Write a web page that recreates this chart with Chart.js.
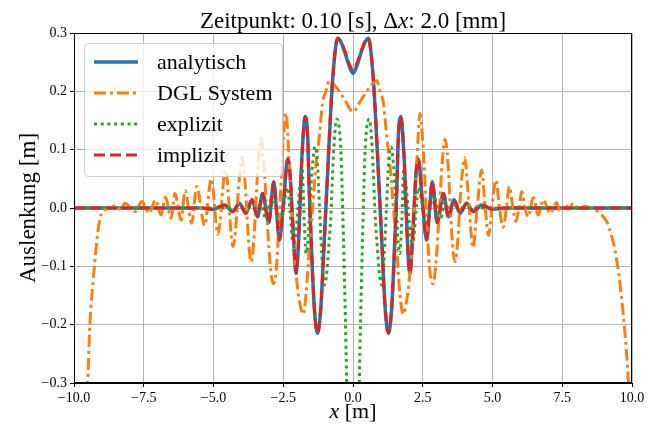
<!DOCTYPE html>
<html>
<head>
<meta charset="utf-8">
<script src="https://cdn.jsdelivr.net/npm/chart.js@4.4.1/dist/chart.umd.min.js"></script>
<style>
  html, body { margin: 0; padding: 0; background: #fff; }
  canvas { display: block; }
</style>
</head>
<body>
<canvas id="chart" width="658" height="426"></canvas>
<script>
const xTicks = [-10, -7.5, -5, -2.5, 0, 2.5, 5, 7.5, 10];
const yTicks = [-0.3, -0.2, -0.1, 0, 0.1, 0.2, 0.3];
const seriesNames = ["analytisch", "DGL System", "explizit", "implizit"];

// [x, y] pairs
const analytisch = [
  [-10, 0], [-5.5, 0], [-5.0, -0.002], [-4.61, 0.005], [-4.31, -0.006], [-4.07, 0.008],
  [-3.84, -0.009], [-3.62, 0.014], [-3.42, -0.015], [-3.24, 0.025], [-3.02, -0.025],
  [-2.84, 0.045], [-2.74, -0.005], [-2.64, -0.055], [-2.49, 0.01], [-2.34, 0.084],
  [-2.26, 0.06], [-2.16, -0.026], [-2.04, -0.112], [-1.98, -0.083], [-1.9, 0.002],
  [-1.83, 0.088], [-1.71, 0.157], [-1.62, 0.117], [-1.57, 0.031], [-1.5, -0.055],
  [-1.39, -0.169], [-1.27, -0.215], [-1.15, -0.169], [-1.03, -0.055], [-0.91, 0.06],
  [-0.79, 0.174], [-0.67, 0.255], [-0.55, 0.291], [-0.45, 0.286], [-0.3, 0.268],
  [-0.15, 0.245], [0, 0.231], [0.15, 0.245], [0.3, 0.268], [0.45, 0.286], [0.55, 0.291],
  [0.67, 0.255], [0.79, 0.174], [0.91, 0.06], [1.03, -0.055], [1.15, -0.169],
  [1.27, -0.215], [1.39, -0.169], [1.5, -0.055], [1.57, 0.031], [1.62, 0.117],
  [1.71, 0.157], [1.83, 0.088], [1.9, 0.002], [1.98, -0.083], [2.04, -0.112],
  [2.16, -0.026], [2.26, 0.06], [2.34, 0.084], [2.49, 0.01], [2.64, -0.055],
  [2.74, -0.005], [2.84, 0.045], [3.02, -0.025], [3.24, 0.025], [3.42, -0.015],
  [3.62, 0.014], [3.84, -0.009], [4.07, 0.008], [4.31, -0.006], [4.61, 0.005],
  [5.0, -0.002], [5.5, 0], [10, 0]
];

const dglSystem = [
  [-10, -0.75], [-9.51, -0.3], [-9.43, -0.198], [-9.31, -0.123], [-9.19, -0.06],
  [-9.07, -0.018], [-8.89, -0.003], [-8.71, 0.0], [-8.5, 0.004], [-8.33, -0.003],
  [-8.17, 0.008], [-7.8, -0.006], [-7.57, 0.011], [-7.3, -0.009], [-7.08, 0.014],
  [-6.88, -0.012], [-6.72, 0.019], [-6.52, -0.018], [-6.38, 0.025], [-6.16, -0.021],
  [-6.02, 0.03], [-5.78, -0.026], [-5.6, 0.037], [-5.32, -0.03], [-5.08, 0.05],
  [-4.84, -0.045], [-4.57, 0.065], [-4.3, -0.066], [-3.97, 0.087], [-3.65, -0.092],
  [-3.3, 0.119], [-3.2, 0.08], [-3.1, 0.0], [-2.98, -0.09], [-2.86, -0.13],
  [-2.76, -0.11], [-2.64, -0.02], [-2.52, 0.1], [-2.4, 0.162], [-2.28, 0.071],
  [-2.16, -0.032], [-2.04, -0.112], [-1.92, -0.16], [-1.78, -0.182], [-1.68, -0.146],
  [-1.57, -0.072], [-1.45, 0.0], [-1.33, 0.071], [-1.21, 0.122], [-1.09, 0.18],
  [-0.97, 0.2], [-0.85, 0.218], [-0.6, 0.207], [-0.3, 0.186], [0, 0.165],
  [0.3, 0.186], [0.6, 0.207], [0.85, 0.218], [0.97, 0.2], [1.09, 0.18], [1.21, 0.122],
  [1.33, 0.071], [1.45, 0.0], [1.57, -0.072], [1.68, -0.146], [1.8, -0.182],
  [1.92, -0.16], [2.04, -0.112], [2.16, -0.032], [2.28, 0.071], [2.4, 0.162],
  [2.52, 0.1], [2.64, -0.02], [2.76, -0.11], [2.87, -0.13], [2.98, -0.09], [3.1, 0.0],
  [3.2, 0.08], [3.3, 0.118], [3.4, 0.08], [3.5, -0.01], [3.58, -0.07], [3.66, -0.092],
  [3.75, -0.06], [3.85, 0.02], [4.0, 0.086], [4.15, 0.01], [4.3, -0.068], [4.45, 0.0],
  [4.61, 0.065], [4.73, 0.005], [4.86, -0.047], [4.98, 0.0], [5.12, 0.048], [5.25, 0.0],
  [5.38, -0.033], [5.5, 0.0], [5.6, 0.037], [5.72, 0.005], [5.84, -0.023], [5.95, 0.0],
  [6.05, 0.028], [6.16, 0.0], [6.28, -0.015], [6.46, 0.018], [6.64, -0.012],
  [6.82, 0.014], [7.06, -0.009], [7.3, 0.009], [7.42, -0.006], [7.6, 0.006],
  [7.75, -0.002], [7.89, 0.008], [8.1, -0.002], [8.3, 0.003], [8.5, 0.0], [8.7, -0.004],
  [8.85, -0.009], [9.09, -0.023], [9.25, -0.045], [9.39, -0.072], [9.57, -0.13],
  [9.72, -0.2], [9.87, -0.295], [10, -0.42]
];

const explizit = [
  [-10, 0], [-4.0, 0], [-3.65, 0.003], [-3.45, -0.006], [-3.3, 0.01], [-3.15, -0.016],
  [-3.02, 0], [-2.9, 0.022], [-2.78, 0.005], [-2.65, -0.03], [-2.55, -0.02],
  [-2.45, 0.015], [-2.35, 0.035], [-2.25, -0.01], [-2.15, -0.06], [-2.08, -0.055],
  [-1.97, 0], [-1.9, 0.04], [-1.82, 0.065], [-1.75, -0.02], [-1.68, -0.078],
  [-1.62, -0.06], [-1.55, 0], [-1.45, 0.075], [-1.36, 0.105], [-1.28, 0.08], [-1.2, 0],
  [-1.12, -0.08], [-1.03, -0.132], [-0.95, -0.115], [-0.87, -0.066], [-0.79, -0.01],
  [-0.73, 0.06], [-0.67, 0.117], [-0.58, 0.152], [-0.5, 0.14], [-0.43, 0.094],
  [-0.37, 0], [-0.31, -0.112], [-0.23, -0.29], [-0.12, -0.6], [0, -0.75],
  [0.12, -0.6], [0.23, -0.29], [0.31, -0.112], [0.37, 0], [0.43, 0.094], [0.5, 0.14],
  [0.58, 0.152], [0.67, 0.117], [0.73, 0.06], [0.79, -0.01], [0.87, -0.066],
  [0.95, -0.115], [1.03, -0.132], [1.12, -0.08], [1.2, 0], [1.28, 0.08], [1.36, 0.105],
  [1.45, 0.075], [1.55, 0], [1.62, -0.06], [1.68, -0.078], [1.75, -0.02], [1.82, 0.065],
  [1.9, 0.04], [1.97, 0], [2.08, -0.055], [2.15, -0.06], [2.25, -0.01], [2.35, 0.035],
  [2.45, 0.015], [2.55, -0.02], [2.65, -0.03], [2.78, 0.005], [2.9, 0.022], [3.02, 0],
  [3.15, -0.016], [3.3, 0.01], [3.45, -0.006], [3.65, 0.003], [4.0, 0], [10, 0]
];

const implizit = [
  [-10, 0], [-5.5, 0], [-5.0, -0.002], [-4.61, 0.005], [-4.31, -0.006], [-4.07, 0.008],
  [-3.84, -0.009], [-3.62, 0.014], [-3.42, -0.015], [-3.24, 0.025], [-3.02, -0.025],
  [-2.84, 0.045], [-2.74, -0.005], [-2.64, -0.055], [-2.49, 0.01], [-2.34, 0.084],
  [-2.26, 0.06], [-2.16, -0.026], [-2.04, -0.112], [-1.98, -0.083], [-1.9, 0.002],
  [-1.83, 0.088], [-1.71, 0.157], [-1.62, 0.117], [-1.57, 0.031], [-1.5, -0.055],
  [-1.39, -0.169], [-1.27, -0.214], [-1.15, -0.169], [-1.03, -0.055], [-0.91, 0.06],
  [-0.79, 0.174], [-0.67, 0.255], [-0.55, 0.291], [-0.45, 0.287], [-0.3, 0.27],
  [-0.15, 0.249], [0, 0.236], [0.15, 0.249], [0.3, 0.27], [0.45, 0.287], [0.55, 0.291],
  [0.67, 0.255], [0.79, 0.174], [0.91, 0.06], [1.03, -0.055], [1.15, -0.169],
  [1.27, -0.214], [1.39, -0.169], [1.5, -0.055], [1.57, 0.031], [1.62, 0.117],
  [1.71, 0.157], [1.83, 0.088], [1.9, 0.002], [1.98, -0.083], [2.04, -0.112],
  [2.16, -0.026], [2.26, 0.06], [2.34, 0.084], [2.49, 0.01], [2.64, -0.055],
  [2.74, -0.005], [2.84, 0.045], [3.02, -0.025], [3.24, 0.025], [3.42, -0.015],
  [3.62, 0.014], [3.84, -0.009], [4.07, 0.008], [4.31, -0.006], [4.61, 0.005],
  [5.0, -0.002], [5.5, 0], [10, 0]
];

const serif = '"Liberation Serif", "DejaVu Serif", serif';

const toPoints = (pairs) => pairs.map(([x, y]) => ({ x, y }));

// matplotlib style: unicode minus, one decimal
function tickText(v) {
  return (v < 0 ? "\u2212" : "") + Math.abs(v).toFixed(1);
}

function drawMixed(c, parts, cx, y, size) {
  let total = 0;
  parts.forEach((p) => {
    c.font = (p[1] ? "italic " : "") + size + "px " + serif;
    total += c.measureText(p[0]).width;
  });
  let x = cx - total / 2;
  parts.forEach((p) => {
    c.font = (p[1] ? "italic " : "") + size + "px " + serif;
    c.fillText(p[0], x, y);
    x += c.measureText(p[0]).width;
  });
}

const decorations = {
  id: "decorations",
  afterDraw(chart) {
    const c = chart.ctx;
    const a = chart.chartArea;
    c.save();

    // full box like matplotlib spines
    c.strokeStyle = "#000";
    c.lineWidth = 1;
    c.strokeRect(Math.round(a.left) + 0.5, Math.round(a.top) + 0.5,
      Math.round(a.right - a.left) - 1, Math.round(a.bottom - a.top) - 1);

    // titles
    c.fillStyle = "#000";
    c.textBaseline = "alphabetic";
    drawMixed(c, [["Zeitpunkt: 0.10 [s], \u0394", false], ["x", true], [": 2.0 [mm]", false]],
      (a.left + a.right) / 2, 28, 23);
    drawMixed(c, [["x", true], [" [m]", false]], (a.left + a.right) / 2, 418, 22);

    c.save();
    c.translate(29, (a.top + a.bottom) / 2);
    c.rotate(-Math.PI / 2);
    c.textAlign = "center";
    c.textBaseline = "middle";
    c.font = "23px " + serif;
    c.fillText("Auslenkung [m]", 0, 0);
    c.restore();

    // legend box
    c.beginPath();
    c.roundRect(84.5, 43.5, 198, 133, 4);
    c.fillStyle = "rgba(255,255,255,0.8)";
    c.fill();
    c.strokeStyle = "#cccccc";
    c.lineWidth = 1;
    c.stroke();

    chart.data.datasets.forEach((ds, i) => {
      const y = 62 + i * 31;
      c.beginPath();
      c.setLineDash(ds.borderDash || []);
      c.lineWidth = ds.borderWidth;
      c.strokeStyle = ds.borderColor;
      c.moveTo(94, y);
      c.lineTo(138, y);
      c.stroke();
      c.setLineDash([]);
      c.fillStyle = "#000";
      c.font = "22px " + serif;
      c.textBaseline = "middle";
      c.textAlign = "left";
      c.fillText(ds.label, 157, y + 1);
    });

    c.restore();
  }
};

const common = {
  showLine: true,
  pointRadius: 0,
  pointHoverRadius: 0,
  fill: false,
  cubicInterpolationMode: "monotone",
  clip: 0
};

const ctx = document.querySelector("#chart").getContext("2d");

const myChart = new Chart(ctx, {
  type: "scatter",
  data: {
    datasets: [
      { ...common, label: seriesNames[0], data: toPoints(analytisch),
        borderColor: "#1f77b4", borderWidth: 3.5, order: 4 },
      { ...common, label: seriesNames[1], data: toPoints(dglSystem),
        borderColor: "#ff7f0e", borderWidth: 3, borderDash: [12, 4, 3, 4], order: 3 },
      { ...common, label: seriesNames[2], data: toPoints(explizit),
        borderColor: "#2ca02c", borderWidth: 3, borderDash: [3, 3.7], order: 2 },
      { ...common, label: seriesNames[3], data: toPoints(implizit),
        borderColor: "#d62728", borderWidth: 3, borderDash: [11, 5], order: 1 }
    ]
  },
  options: {
    responsive: false,
    animation: false,
    devicePixelRatio: 1,
    layout: { padding: { top: 33, right: 26, left: 0, bottom: 0 } },
    plugins: {
      legend: { display: false },
      title: { display: false },
      tooltip: { enabled: false }
    },
    scales: {
      x: {
        type: "linear",
        min: -10,
        max: 10,
        afterBuildTicks: (s) => { s.ticks = xTicks.map((v) => ({ value: v })); },
        afterFit: (s) => { s.height = 43; },
        ticks: {
          callback: (v) => tickText(v),
          color: "#000",
          font: { family: serif, size: 14 },
          padding: 3,
          maxRotation: 0,
          autoSkip: false
        },
        grid: { color: "#b0b0b0", lineWidth: 1, tickColor: "#000", tickLength: 4 },
        border: { color: "#000", width: 1 }
      },
      y: {
        min: -0.3,
        max: 0.3,
        afterBuildTicks: (s) => { s.ticks = yTicks.map((v) => ({ value: v })); },
        afterFit: (s) => { s.width = 74; },
        ticks: {
          callback: (v) => tickText(v),
          color: "#000",
          font: { family: serif, size: 14 },
          padding: 3,
          autoSkip: false
        },
        grid: { color: "#b0b0b0", lineWidth: 1, tickColor: "#000", tickLength: 4 },
        border: { color: "#000", width: 1 }
      }
    }
  },
  plugins: [decorations]
});
</script>
</body>
</html>
